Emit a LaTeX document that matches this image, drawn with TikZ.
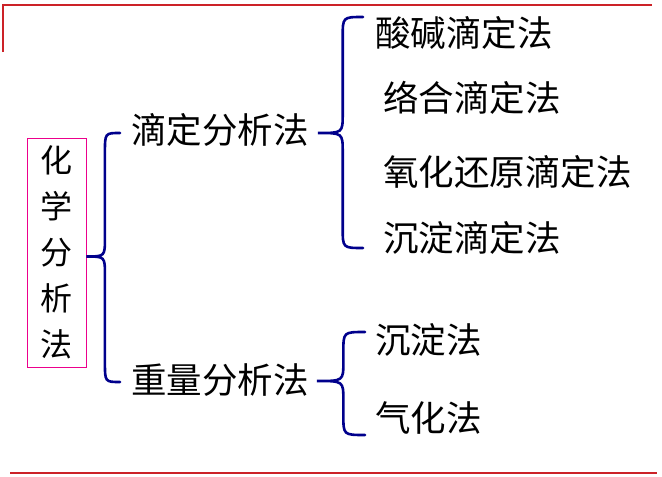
\documentclass[tikz,border=0pt]{standalone}
\usepackage{fontspec}
\newfontfamily\cjk{Noto Sans CJK SC}
\usetikzlibrary{calc}
\definecolor{navy}{RGB}{0,0,140}
\definecolor{redline}{RGB}{204,34,40}
% curly brace from a tip to two ends
\newcommand{\curlybrace}[3]{%
  \draw[brace] let \p1=(#1), \p2=(#2), \p3=(#3), \p4=($(#1)!0.55!(#2)$) in
    (\p2) .. controls (\x4,\y2) .. (\x4,\y2-20pt) -- (\x4,\y1+19pt)
    .. controls (\x4,\y1) .. (\p1) .. controls (\x4,\y1) .. (\x4,\y1-19pt)
    -- (\x4,\y3+20pt) .. controls (\x4,\y3) .. (\p3);}
\begin{document}
\begin{tikzpicture}[
  x=1pt, y=-1pt,
  term/.style={font=\cjk\fontsize{35.5pt}{40pt}\selectfont, anchor=west, inner sep=0pt},
  rootbox/.style={draw=magenta, line width=1pt, minimum width=59pt, minimum height=229pt,
    inner sep=0pt, align=center, font=\cjk\fontsize{32pt}{46pt}\selectfont},
  brace/.style={draw=navy, line width=2.6pt, line cap=round},
  rule/.style={draw=redline, line width=2.6pt}
]
\useasboundingbox (0,0) rectangle (662,477);

% frame lines
\draw[rule] (3,52) -- (3,5) -- (652,5);
\draw[rule] (10,473) -- (657,473);

\node[rootbox] (chem) at (56.5,252.5) {化\\学\\分\\析\\法};

\node[term] (titr) at (131,130) {滴定分析法};
\node[term] (grav) at (131,380) {重量分析法};

\node[term] (acid) at (375,33) {酸碱滴定法};
\node[term] (cplx) at (383,98) {络合滴定法};
\node[term] (redox) at (383,172) {氧化还原滴定法};
\node[term] (prec) at (383,238) {沉淀滴定法};

\node[term] (precg) at (375,340) {沉淀法};
\node[term] (volat) at (375,418) {气化法};

\coordinate (c1) at (120,133);
\coordinate (c2) at (120,382);
\coordinate (t1) at (363,17);
\coordinate (t2) at (363,248);
\coordinate (g1) at (365,332);
\coordinate (g2) at (365,435);

\curlybrace{[yshift=-4pt]chem.east}{c1}{c2}
\curlybrace{[shift={(9,3)}]titr.east}{t1}{t2}
\curlybrace{[shift={(8,1)}]grav.east}{g1}{g2}
\end{tikzpicture}
\end{document}
